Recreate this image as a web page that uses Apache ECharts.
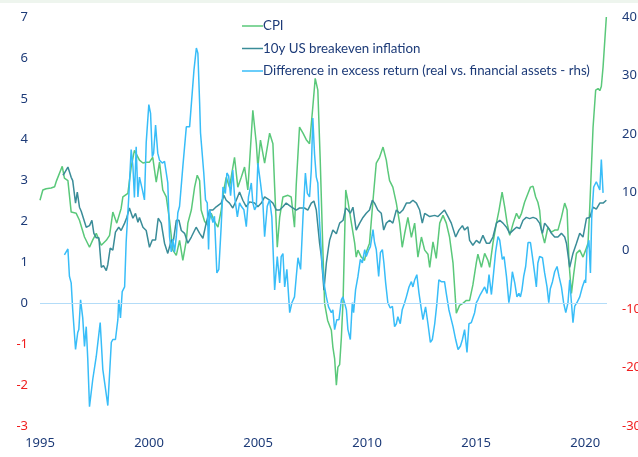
<!DOCTYPE html>
<html>
<head>
<meta charset="utf-8">
<script src="https://cdn.jsdelivr.net/npm/echarts@6/dist/echarts.min.js"></script>
<style>
html,body{margin:0;padding:0;background:#fff;}
#c{width:638px;height:457px;}
</style>
</head>
<body>
<div id="c"></div>
<script>
const seriesNames = ["CPI", "10y US breakeven inflation", "Difference in excess return (real vs. financial assets - rhs)"];
const xTicks = [1995, 2000, 2005, 2010, 2015, 2020];

const cpiYears = [1995.00,1995.13,1995.28,1995.51,1995.67,1995.76,1996.02,1996.12,1996.28,1996.43,1996.66,1996.81,1997.04,1997.27,1997.42,1997.58,1997.81,1998.04,1998.19,1998.34,1998.52,1998.72,1998.80,1999.03,1999.18,1999.33,1999.56,1999.72,1999.87,2000.02,2000.17,2000.33,2000.48,2000.63,2000.79,2000.94,2001.09,2001.25,2001.40,2001.55,2001.71,2001.78,2001.94,2002.09,2002.21,2002.32,2002.39,2002.55,2002.70,2002.85,2003.00,2003.16,2003.31,2003.43,2003.54,2003.69,2003.92,2004.07,2004.23,2004.38,2004.53,2004.76,2004.92,2004.99,2005.11,2005.30,2005.53,2005.68,2005.76,2005.88,2005.99,2006.14,2006.37,2006.52,2006.67,2006.75,2006.90,2007.06,2007.21,2007.36,2007.51,2007.62,2007.74,2007.85,2007.96,2008.05,2008.19,2008.36,2008.43,2008.51,2008.59,2008.66,2008.74,2008.82,2008.90,2009.02,2009.12,2009.28,2009.43,2009.50,2009.58,2009.73,2009.88,2009.96,2010.11,2010.27,2010.42,2010.57,2010.73,2010.88,2010.95,2011.03,2011.18,2011.34,2011.49,2011.61,2011.72,2011.87,2012.03,2012.18,2012.33,2012.49,2012.64,2012.79,2012.87,2013.02,2013.17,2013.33,2013.48,2013.63,2013.78,2013.94,2014.09,2014.24,2014.39,2014.55,2014.70,2014.85,2015.01,2015.08,2015.24,2015.39,2015.54,2015.62,2015.77,2015.93,2016.05,2016.19,2016.31,2016.42,2016.54,2016.70,2016.85,2016.97,2017.08,2017.22,2017.38,2017.49,2017.61,2017.73,2017.83,2017.91,2017.99,2018.14,2018.29,2018.45,2018.60,2018.75,2018.91,2019.06,2019.17,2019.26,2019.37,2019.47,2019.60,2019.75,2019.90,2020.02,2020.13,2020.21,2020.36,2020.48,2020.59,2020.67,2020.74,2020.82,2020.97];
const cpiValues = [2.52,2.77,2.80,2.82,2.85,3.00,3.35,3.06,3.00,2.23,2.20,2.03,1.62,1.37,1.55,1.71,1.42,1.54,1.66,2.23,1.96,2.32,2.60,2.69,3.33,3.74,3.50,3.43,3.45,3.45,3.57,2.96,3.45,2.77,2.60,2.03,1.30,1.17,1.54,1.05,1.54,1.96,2.28,2.84,3.13,3.00,2.28,2.00,1.91,2.20,2.00,1.86,2.28,2.77,3.08,2.84,3.57,2.84,3.08,3.33,2.77,4.72,3.90,3.33,3.99,3.43,4.16,3.90,2.84,1.37,2.10,2.60,2.64,2.60,1.86,2.90,4.31,4.16,4.00,3.90,4.80,5.50,5.21,3.50,1.50,0.00,-0.42,-0.66,-1.07,-1.35,-2.00,-1.56,-1.50,-0.83,0.10,2.77,2.50,1.96,1.47,1.13,1.30,1.13,1.05,1.25,1.47,2.52,3.43,3.57,3.82,3.50,3.25,3.00,2.84,2.45,1.96,1.37,1.70,2.10,1.61,1.96,1.13,1.62,1.30,1.20,0.88,1.50,1.10,1.96,2.15,1.96,1.62,0.98,-0.24,-0.05,0.00,0.07,0.07,0.45,1.00,1.20,0.88,1.22,1.05,0.88,1.47,1.96,2.28,2.72,2.35,1.96,1.66,1.96,2.20,2.07,2.20,2.47,2.69,2.84,2.86,2.60,2.47,2.28,1.79,1.47,1.86,1.74,1.79,1.79,2.10,2.45,2.28,0.98,0.24,0.70,1.22,1.30,1.13,1.30,1.47,2.35,4.30,5.21,5.25,5.20,5.30,5.78,7.00];

const beYears = [1996.05,1996.12,1996.28,1996.43,1996.50,1996.63,1996.71,1996.81,1996.89,1996.96,1997.12,1997.27,1997.38,1997.47,1997.58,1997.70,1997.81,1997.91,1998.04,1998.11,1998.22,1998.34,1998.46,1998.61,1998.72,1998.88,1998.98,1999.10,1999.26,1999.38,1999.49,1999.56,1999.72,1999.87,2000.02,2000.15,2000.30,2000.42,2000.56,2000.71,2000.86,2001.02,2001.12,2001.25,2001.37,2001.48,2001.63,2001.78,2001.94,2002.16,2002.32,2002.47,2002.62,2002.78,2002.93,2003.08,2003.31,2003.43,2003.54,2003.69,2003.84,2004.00,2004.15,2004.30,2004.46,2004.61,2004.84,2004.99,2005.15,2005.30,2005.53,2005.68,2005.84,2005.99,2006.14,2006.29,2006.52,2006.75,2006.90,2007.13,2007.28,2007.44,2007.56,2007.67,2007.82,2007.90,2008.02,2008.13,2008.23,2008.28,2008.43,2008.59,2008.74,2008.90,2009.02,2009.12,2009.23,2009.35,2009.50,2009.66,2009.81,2009.96,2010.11,2010.24,2010.34,2010.49,2010.65,2010.76,2010.88,2011.03,2011.18,2011.34,2011.49,2011.64,2011.80,2011.95,2012.10,2012.26,2012.41,2012.53,2012.64,2012.87,2013.10,2013.25,2013.40,2013.55,2013.71,2013.86,2014.06,2014.21,2014.37,2014.47,2014.62,2014.70,2014.85,2015.01,2015.16,2015.31,2015.47,2015.62,2015.77,2015.93,2016.08,2016.23,2016.39,2016.54,2016.70,2016.85,2017.00,2017.15,2017.30,2017.45,2017.61,2017.76,2017.91,2018.04,2018.14,2018.29,2018.45,2018.60,2018.75,2018.91,2019.06,2019.14,2019.29,2019.44,2019.60,2019.75,2019.90,2020.06,2020.21,2020.36,2020.51,2020.67,2020.82,2020.97];
const beValues = [3.13,3.18,3.33,3.08,3.00,2.45,2.72,2.35,2.25,2.25,1.86,1.90,2.03,1.71,1.60,1.60,0.88,0.92,0.80,0.95,1.35,1.30,1.74,1.86,1.78,1.96,2.10,2.33,2.08,2.20,1.98,2.10,1.86,1.78,1.37,1.55,1.55,2.08,1.96,1.47,1.22,1.54,1.54,2.03,2.03,1.78,1.71,1.47,1.62,1.86,1.71,1.59,1.96,2.28,2.28,2.36,2.45,2.64,2.52,2.45,2.33,2.52,2.72,2.52,2.36,2.48,2.45,2.36,2.45,2.60,2.52,2.45,2.28,2.28,2.36,2.45,2.36,2.28,2.33,2.33,2.28,2.45,2.50,2.28,1.47,1.15,0.32,0.98,1.37,1.54,1.79,1.70,1.96,2.03,2.33,2.28,2.20,2.35,1.79,1.96,2.10,2.20,2.28,2.52,2.45,2.28,2.20,1.79,1.96,2.03,1.96,2.28,2.20,2.28,2.45,2.45,2.52,2.45,2.28,1.96,2.20,2.12,2.15,2.12,2.20,2.28,2.12,1.96,1.62,1.79,1.90,1.79,1.87,1.54,1.42,1.54,1.47,1.66,1.47,1.47,1.62,1.96,2.03,1.96,1.86,1.71,1.79,1.86,1.83,2.03,2.10,2.07,2.10,2.07,1.96,1.71,1.96,1.86,1.71,1.62,1.62,1.71,1.62,1.47,0.88,1.22,1.47,1.71,1.62,2.08,2.10,2.35,2.30,2.45,2.45,2.52];

const diffYears = [1996.12,1996.20,1996.28,1996.35,1996.43,1996.50,1996.63,1996.73,1996.78,1996.86,1996.96,1997.04,1997.12,1997.19,1997.27,1997.42,1997.58,1997.76,1997.88,1998.11,1998.27,1998.34,1998.46,1998.57,1998.61,1998.69,1998.77,1998.88,1998.95,1999.07,1999.18,1999.26,1999.33,1999.41,1999.49,1999.56,1999.69,1999.79,1999.87,1999.99,2000.07,2000.15,2000.21,2000.30,2000.40,2000.48,2000.61,2000.71,2000.86,2000.94,2001.02,2001.09,2001.17,2001.25,2001.32,2001.40,2001.55,2001.63,2001.71,2001.86,2001.94,2002.06,2002.17,2002.24,2002.32,2002.36,2002.42,2002.51,2002.59,2002.67,2002.73,2002.78,2002.85,2002.93,2003.00,2003.11,2003.20,2003.31,2003.39,2003.50,2003.57,2003.65,2003.74,2003.84,2003.92,2004.05,2004.15,2004.23,2004.35,2004.46,2004.56,2004.69,2004.76,2004.84,2004.92,2004.99,2005.11,2005.22,2005.30,2005.42,2005.53,2005.63,2005.76,2005.88,2005.99,2006.06,2006.14,2006.22,2006.32,2006.45,2006.55,2006.67,2006.75,2006.83,2006.95,2007.06,2007.17,2007.26,2007.36,2007.44,2007.51,2007.59,2007.67,2007.74,2007.82,2007.93,2008.02,2008.13,2008.23,2008.36,2008.43,2008.51,2008.61,2008.71,2008.82,2008.89,2008.97,2009.05,2009.12,2009.23,2009.32,2009.38,2009.47,2009.58,2009.69,2009.78,2009.89,2009.96,2010.08,2010.15,2010.27,2010.34,2010.42,2010.53,2010.61,2010.70,2010.77,2010.85,2010.95,2011.06,2011.16,2011.26,2011.34,2011.41,2011.52,2011.61,2011.72,2011.80,2011.92,2012.03,2012.10,2012.18,2012.28,2012.38,2012.49,2012.56,2012.68,2012.79,2012.90,2012.99,2013.10,2013.20,2013.29,2013.40,2013.55,2013.63,2013.75,2013.86,2013.94,2014.06,2014.17,2014.28,2014.37,2014.47,2014.58,2014.67,2014.78,2014.85,2014.93,2015.01,2015.08,2015.19,2015.28,2015.39,2015.50,2015.59,2015.70,2015.80,2015.89,2016.00,2016.08,2016.20,2016.28,2016.39,2016.50,2016.57,2016.66,2016.77,2016.87,2016.96,2017.03,2017.10,2017.18,2017.27,2017.38,2017.49,2017.58,2017.68,2017.76,2017.83,2017.91,2018.04,2018.14,2018.25,2018.33,2018.40,2018.50,2018.60,2018.71,2018.80,2018.91,2019.01,2019.11,2019.21,2019.29,2019.37,2019.44,2019.52,2019.62,2019.75,2019.87,2019.98,2020.02,2020.08,2020.17,2020.24,2020.30,2020.39,2020.51,2020.59,2020.67,2020.74,2020.82];
const diffValues = [-0.7,-1.0,0.3,-4.4,-5.5,-10.1,-16.9,-14.0,-13.5,-8.4,-11.5,-16.4,-13.0,-18.5,-26.7,-22.0,-18.1,-12.3,-20.3,-26.5,-15.7,-15.2,-15.2,-11.8,-8.4,-11.5,-7.0,-6.2,1.4,9.2,17.3,14.5,9.1,17.8,9.2,12.6,10.5,8.7,18.5,25.0,23.5,16.1,16.7,21.5,16.7,15.5,15.0,15.3,11.6,2.4,-0.2,2.0,-0.2,2.4,6.5,7.6,14.4,14.4,21.2,21.2,21.5,30.9,34.7,33.8,25.3,20.2,20.2,13.3,8.7,8.2,0.2,7.0,7.0,4.8,5.9,-3.8,-3.2,4.3,10.9,9.8,13.3,12.8,9.4,13.8,9.4,5.8,8.2,7.6,7.0,4.1,9.2,11.6,8.2,7.0,7.6,15.0,11.6,8.2,2.4,7.6,8.7,5.8,-6.7,-1.0,-5.5,-1.0,-0.5,-6.2,-3.2,-10.6,-8.9,-7.9,-4.5,-1.2,-3.2,5.8,13.3,9.8,9.2,13.8,22.7,16.5,12.6,11.6,4.8,-2.1,-5.5,-7.9,-9.6,-10.6,-10.1,-13.5,-11.8,-11.8,-8.4,-7.9,-9.0,-10.1,-13.5,-15.2,-8.9,-10.6,-6.7,-4.4,-1.5,-2.1,0.2,-1.0,0.2,0.7,3.6,1.4,0.2,-4.4,-0.3,0.2,-2.1,-5.5,-8.9,-9.8,-9.5,-13.0,-12.5,-11.3,-12.5,-10.1,-8.9,-7.9,-6.2,-5.3,-6.2,-5.0,-4.1,-7.3,-10.1,-11.8,-9.6,-12.5,-15.7,-15.2,-12.5,-9.0,-5.0,-5.3,-5.3,-7.3,-10.1,-11.8,-13.0,-15.2,-16.9,-16.3,-15.2,-13.5,-17.4,-12.5,-12.3,-12.5,-10.6,-8.9,-8.4,-7.5,-7.8,-6.2,-7.3,-4.1,-7.5,-3.8,-0.3,2.4,1.8,-1.5,-1.0,-4.4,-8.9,-7.3,-3.6,-5.5,-7.9,-7.3,-7.9,-6.7,-4.4,-2.7,1.4,1.4,-1.0,-3.8,-6.2,-2.1,-1.0,-1.2,-3.8,-6.2,-8.9,-6.5,-5.3,-3.6,-2.7,-4.4,-6.2,-8.9,-10.6,-8.9,-5.0,-8.9,-12.3,-9.5,-8.9,-7.9,-6.2,-5.0,-5.5,0.2,1.8,-3.8,5.8,10.9,11.8,11.6,10.4,15.6,9.9];

const zip = (xs, ys) => xs.map((x, i) => [x, ys[i]]);
const navy = '#1d3b78';
const red = '#f01e1e';
const fontFam = '"Noto Sans", "Open Sans", sans-serif';
const legendFont = 'Lato, "Noto Sans", sans-serif';

const chart = echarts.init(document.getElementById('c'), null, {renderer: 'canvas'});
chart.setOption({
  animation: false,
  backgroundColor: '#ffffff',
  graphic: [{type: 'rect', left: 0, top: 0, shape: {width: 638, height: 3}, style: {fill: '#eef5ee'}, silent: true}],
  grid: {left: 40, right: 31, top: 17, bottom: 31, containLabel: false, outerBoundsMode: 'none'},
  legend: {
    orient: 'vertical', left: 237, top: 14, itemGap: 8.5,
    itemWidth: 21, itemHeight: 1.5, icon: 'rect',
    textStyle: {color: navy, fontSize: 13.3, fontFamily: legendFont, padding: [0, 0, 0, -5], lineHeight: 14},
    data: seriesNames
  },
  xAxis: {
    type: 'value', min: 1995, max: 2021, interval: 5,
    axisLine: {show: false}, axisTick: {show: false}, splitLine: {show: false},
    axisLabel: {color: navy, fontSize: 13, fontFamily: fontFam, margin: 11, showMaxLabel: false,
      formatter: v => xTicks.includes(v) ? String(v) : ''}
  },
  yAxis: [
    {type: 'value', min: -3, max: 7, interval: 1, position: 'left',
      axisLine: {show: false}, axisTick: {show: false}, splitLine: {show: false},
      axisLabel: {fontSize: 13, fontFamily: fontFam, margin: 12,
        formatter: v => v < 0 ? '{n|' + v + '}' : '{p|' + v + '}',
        rich: {n: {color: red, fontSize: 13, fontFamily: fontFam}, p: {color: navy, fontSize: 13, fontFamily: fontFam}}}},
    {type: 'value', min: -30, max: 40, interval: 10, position: 'right',
      axisLine: {show: false}, axisTick: {show: false}, splitLine: {show: false},
      axisLabel: {fontSize: 13, fontFamily: fontFam, margin: 15,
        formatter: v => v < 0 ? '{n|' + v + '}' : '{p|' + v + '}',
        rich: {n: {color: red, fontSize: 13, fontFamily: fontFam}, p: {color: navy, fontSize: 13, fontFamily: fontFam}}}}
  ],
  series: [
    {name: seriesNames[0], type: 'line', yAxisIndex: 0, data: zip(cpiYears, cpiValues), showSymbol: false,
      color: '#5ac87a', lineStyle: {width: 1.5, color: '#5ac87a'}, z: 2,
      markLine: {silent: true, symbol: 'none', label: {show: false},
        lineStyle: {color: '#b3dcf8', width: 1, type: 'solid'}, data: [{yAxis: 0}]}},
    {name: seriesNames[1], type: 'line', yAxisIndex: 0, data: zip(beYears, beValues), showSymbol: false,
      color: '#3a8c98', lineStyle: {width: 1.5, color: '#3a8c98'}, z: 3},
    {name: seriesNames[2], type: 'line', yAxisIndex: 1, data: zip(diffYears, diffValues), showSymbol: false,
      color: '#38bdf8', lineStyle: {width: 1.5, color: '#38bdf8'}, z: 4}
  ]
});
</script>
</body>
</html>
